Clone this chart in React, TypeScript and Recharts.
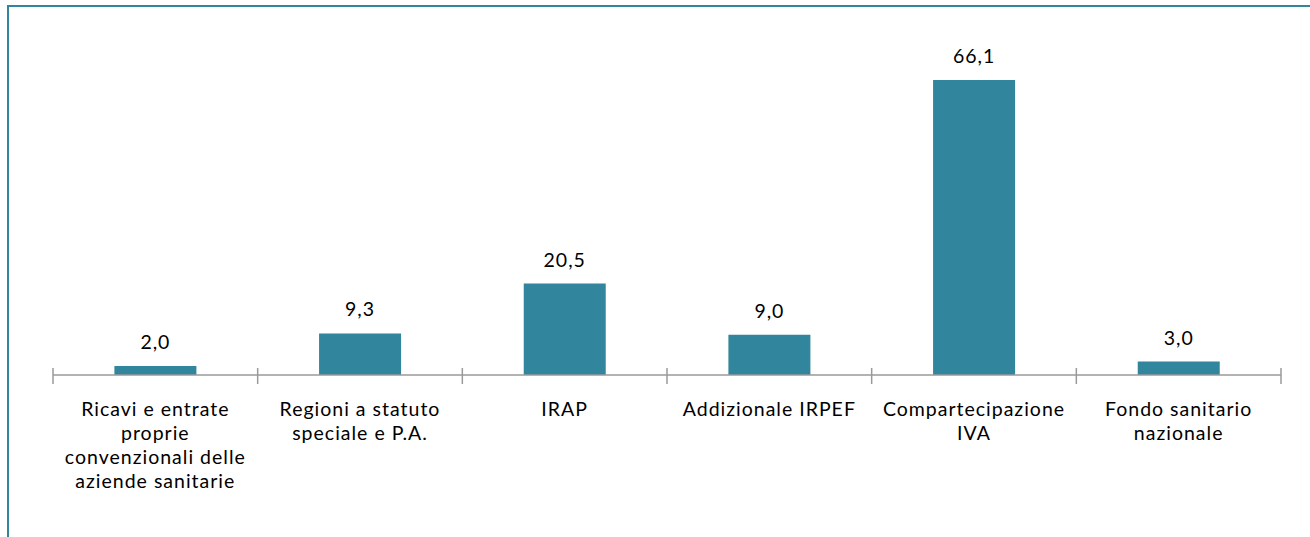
import React from "react";
import { BarChart, Bar, XAxis, YAxis, LabelList } from "recharts";

const categories = [
  "Ricavi e entrate\nproprie\nconvenzionali delle\naziende sanitarie",
  "Regioni a statuto\nspeciale e P.A.",
  "IRAP",
  "Addizionale IRPEF",
  "Compartecipazione\nIVA",
  "Fondo sanitario\nnazionale",
];
const values = [2.0, 9.3, 20.5, 9.0, 66.1, 3.0];

const data = categories.map((c, i) => ({ name: c, value: values[i] }));

const FONT = "Lato, 'Open Sans', sans-serif";
const TEAL = "#31859C";
const AXIS = "#9A9A9A";

const CatTick = (props: any) => {
  const { x, y, payload, index } = props;
  const lines = String(payload.value).split("\n");
  const half = payload.offset || 1228 / 12;
  return (
    <g>
      <line x1={x - half} x2={x - half} y1={y - 9} y2={y + 7} stroke={AXIS} strokeWidth={1.5} />
      {index === categories.length - 1 && (
        <line x1={x + half} x2={x + half} y1={y - 9} y2={y + 7} stroke={AXIS} strokeWidth={1.5} />
      )}
      <text x={x} y={y} textAnchor="middle" fontFamily={FONT} fontSize={19.5} letterSpacing={1} fill="#000">
        {lines.map((l: string, i: number) => (
          <tspan key={i} x={x} dy={i === 0 ? 38.5 : 24}>
            {l}
          </tspan>
        ))}
      </text>
    </g>
  );
};

export default function App() {
  return (
    <div style={{ position: "fixed", left: 0, top: 0, width: 1310, height: 537, overflow: "hidden", background: "#fff" }}>
      <div
        style={{
          position: "absolute",
          left: 7,
          top: 5,
          width: 1320,
          height: 560,
          borderLeft: `2px solid ${TEAL}`,
          borderTop: `2px solid ${TEAL}`,
          boxSizing: "border-box",
        }}
      />
      <div style={{ position: "absolute", left: 0, top: 0 }}>
        <BarChart
          width={1310}
          height={537}
          data={data}
          margin={{ top: 62.6, right: 29, left: 53, bottom: 22 }}
          barCategoryGap="30%"
        >
          <YAxis hide domain={[0, 70]} />
          <XAxis
            dataKey="name"
            height={140}
            interval={0}
            tickLine={false}
            tickSize={0}
            axisLine={{ stroke: AXIS, strokeWidth: 1.5 }}
            tick={<CatTick />}
          />
          <Bar dataKey="value" fill={TEAL} isAnimationActive={false}>
            <LabelList
              dataKey="value"
              position="top"
              offset={17}
              fontFamily={FONT}
              fontSize={19.5}
              letterSpacing={1}
              fill="#000"
              formatter={(v: any) => Number(v).toFixed(1).replace(".", ",")}
            />
          </Bar>
        </BarChart>
      </div>
    </div>
  );
}
